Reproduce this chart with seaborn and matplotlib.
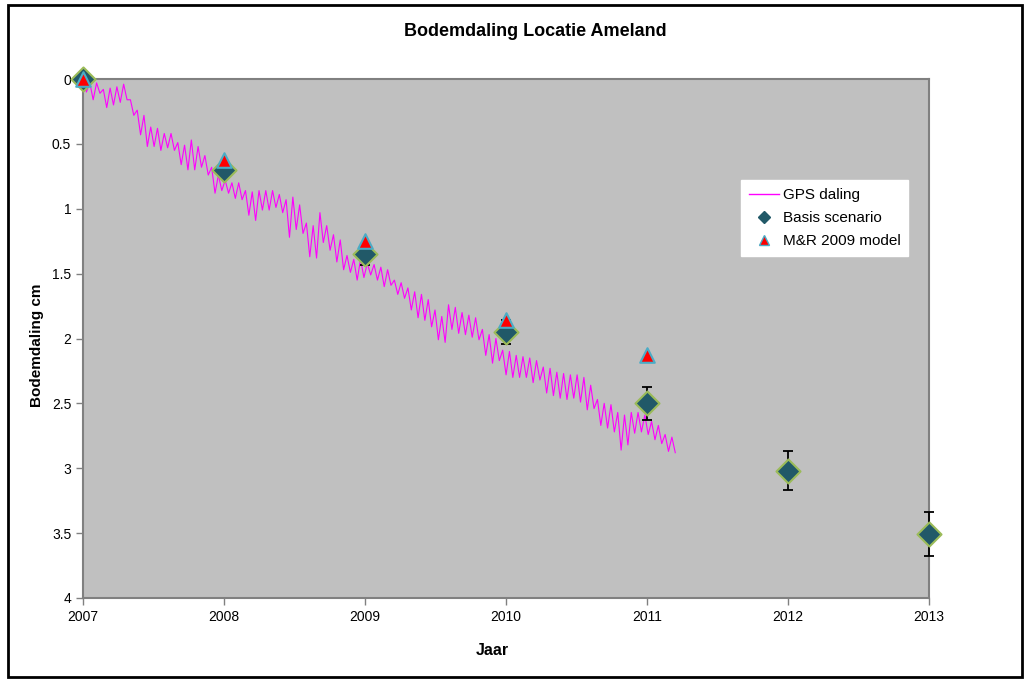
import numpy as np
import pandas as pd
import matplotlib
matplotlib.use("Agg")
import matplotlib.pyplot as plt
from matplotlib.lines import Line2D
from matplotlib.patches import Rectangle
import seaborn as sns

plt.rcParams['font.family'] = ['Liberation Sans', 'DejaVu Sans']

# scenario years and values (cm)
years = [2007, 2008, 2009, 2010, 2011, 2012, 2013]
basis_cm = [0.0, 0.70, 1.35, 1.95, 2.50, 3.02, 3.51]
basis_err = [0.0, 0.05, 0.08, 0.09, 0.13, 0.15, 0.17]
mr_years = [2007, 2008, 2009, 2010, 2011]
mr_cm = [0.0, 0.625, 1.25, 1.86, 2.13]

# GPS daling (upper/lower edge alternating), 2007.0 - 2011.2
gps_cm = [0.00, 0.10, 0.03, 0.16, 0.03, 0.11, 0.08, 0.22, 0.07, 0.20,
          0.06, 0.18, 0.04, 0.16, 0.16, 0.28, 0.24, 0.43, 0.28, 0.52,
          0.37, 0.52, 0.38, 0.55, 0.42, 0.53, 0.42, 0.55, 0.49, 0.66,
          0.51, 0.70, 0.47, 0.70, 0.52, 0.68, 0.59, 0.74, 0.68, 0.88,
          0.74, 0.86, 0.78, 0.88, 0.80, 0.92, 0.80, 0.93, 0.86, 1.05,
          0.87, 1.09, 0.86, 1.01, 0.86, 1.01, 0.86, 0.99, 0.89, 1.03,
          0.93, 1.22, 0.91, 1.16, 0.97, 1.19, 1.11, 1.37, 1.13, 1.38,
          1.03, 1.26, 1.13, 1.32, 1.20, 1.41, 1.24, 1.47, 1.36, 1.49,
          1.39, 1.55, 1.39, 1.53, 1.42, 1.51, 1.43, 1.55, 1.45, 1.60,
          1.47, 1.59, 1.55, 1.66, 1.57, 1.69, 1.61, 1.78, 1.64, 1.84,
          1.66, 1.86, 1.70, 1.91, 1.78, 2.01, 1.83, 2.03, 1.74, 1.93,
          1.76, 1.96, 1.80, 1.97, 1.82, 1.99, 1.84, 2.01, 1.93, 2.13,
          1.97, 2.19, 2.00, 2.17, 2.09, 2.28, 2.10, 2.30, 2.13, 2.30,
          2.14, 2.30, 2.15, 2.34, 2.17, 2.32, 2.22, 2.42, 2.23, 2.44,
          2.26, 2.46, 2.27, 2.47, 2.28, 2.46, 2.28, 2.49, 2.30, 2.55,
          2.36, 2.54, 2.47, 2.67, 2.50, 2.69, 2.51, 2.72, 2.57, 2.86,
          2.59, 2.82, 2.57, 2.73, 2.57, 2.72, 2.59, 2.74, 2.64, 2.78,
          2.67, 2.81, 2.74, 2.87, 2.76, 2.88]
gps_start, gps_end = 2007.0, 2011.2
gps_years = np.linspace(gps_start, gps_end, len(gps_cm))

gps = pd.DataFrame({"Jaar": gps_years, "cm": gps_cm})
basis = pd.DataFrame({"Jaar": years, "cm": basis_cm, "err": basis_err})
mr = pd.DataFrame({"Jaar": mr_years, "cm": mr_cm})

fig = plt.figure(figsize=(10.29, 6.8), dpi=100)
ax = fig.add_axes([0.0807, 0.1206, 0.8222, 0.7632])
ax.set_facecolor("#C0C0C0")

sns.lineplot(x="Jaar", y="cm", data=gps, color="#FF00FF", linewidth=0.8, ax=ax, zorder=2,
             sort=False)
ax.errorbar(basis["Jaar"], basis["cm"], yerr=basis["err"], fmt="none", ecolor="black",
            elinewidth=1.3, capsize=3.5, capthick=1.3, zorder=3, clip_on=False)
sns.scatterplot(x="Jaar", y="cm", data=basis, marker="D", s=150, color="#215968",
                edgecolor="#9BBB59", linewidth=1.5, ax=ax, zorder=4, clip_on=False)
sns.scatterplot(x="Jaar", y="cm", data=mr, marker="^", s=110, color="#FF0000",
                edgecolor="#4BACC6", linewidth=1.5, ax=ax, zorder=5, clip_on=False)

ax.set_xlim(2007, 2013)
ax.set_ylim(4, 0)
ax.set_xticks(years)
ax.set_yticks(np.arange(0, 4.01, 0.5))
ax.yaxis.set_major_formatter(matplotlib.ticker.FormatStrFormatter('%g'))
ax.tick_params(axis='both', labelsize=10, length=5, width=1, color="#808080", direction='out')
ax.tick_params(axis='x', pad=4)
for s in ax.spines.values():
    s.set_color("#808080")
    s.set_linewidth(1.5)
ax.set_xlabel("")
ax.set_ylabel("")

fig.text(0.52, 0.953, "Bodemdaling Locatie Ameland", ha="center", va="center",
         fontsize=13, fontweight="bold")
fig.text(0.036, 0.493, "Bodemdaling cm", ha="center", va="center", rotation=90,
         fontsize=11, fontweight="bold")
fig.text(0.478, 0.044, "Jaar", ha="center", va="center", fontsize=11.5, fontweight="bold")

handles = [Line2D([], [], color="#FF00FF", linewidth=1),
           Line2D([], [], linestyle="none", marker="D", markersize=6, color="#215968",
                  markeredgecolor="#215968"),
           Line2D([], [], linestyle="none", marker="^", markersize=7, color="#FF0000",
                  markeredgecolor="#4BACC6")]
leg = ax.legend(handles, ["GPS daling", "Basis scenario", "M&R 2009 model"],
                loc="upper left", bbox_to_anchor=(0.778, 0.805), borderaxespad=0,
                fontsize=11, frameon=True, fancybox=False, framealpha=1, edgecolor="white",
                handlelength=2.0, handletextpad=0.2, borderpad=0.5, labelspacing=0.6)

fig.add_artist(Rectangle((8 / 1029, 3 / 680), 1014 / 1029, 672 / 680, transform=fig.transFigure,
                         fill=False, edgecolor="black", linewidth=2))

fig.savefig("out.png", dpi=100)
